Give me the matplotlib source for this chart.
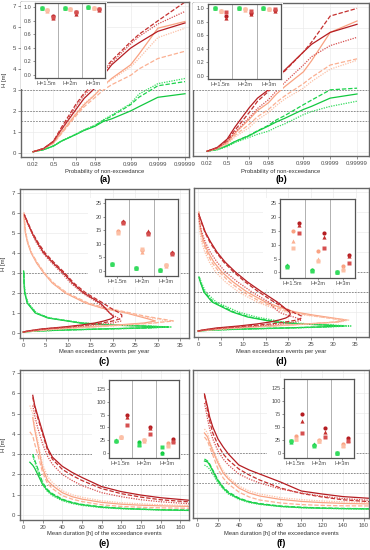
import numpy as np
import matplotlib
matplotlib.use('Agg')
import matplotlib.pyplot as plt
from matplotlib.patches import Rectangle

plt.rcParams['font.family'] = ['Liberation Sans', 'DejaVu Sans']

nan = np.nan
LEVELS = [1.5, 2, 3]
GROUPS = ['H=1.5m', 'H=2m', 'H=3m']

# ---- (a)/(b): H vs probability of non-exceedance ----
P = [0.02, 0.2, 0.5, 0.7, 0.9, 0.95, 0.98, 0.99, 0.995, 0.999, 0.9995, 0.9999, 0.99999]
P_TICKS = [0.02, 0.5, 0.9, 0.98, 0.999, 0.9999, 0.99999]

A_GREEN_SOLID = [0.05, 0.15, 0.32, 0.55, 0.87, 1.07, 1.27, 1.5, 1.62, 2.0, 2.2, 2.65, 2.82]
A_GREEN_DASH = [0.05, 0.15, 0.33, 0.56, 0.88, 1.08, 1.3, 1.55, 1.75, 2.3, 2.65, 3.2, 3.4]
A_GREEN_DOT = [0.05, 0.15, 0.33, 0.56, 0.89, 1.1, 1.32, 1.58, 1.8, 2.35, 2.8, 3.3, 3.55]
A_SALMON_SOLID = [0.05, 0.2, 0.48, 0.95, 1.83, 2.3, 2.78, 3.2, 3.55, 4.2, 4.7, 5.95, 6.27]
A_SALMON_DASH = [0.05, 0.2, 0.45, 0.9, 1.75, 2.2, 2.65, 3.0, 3.25, 3.7, 4.0, 4.5, 4.85]
A_SALMON_DOT = [0.05, 0.2, 0.5, 1.0, 1.9, 2.35, 2.8, 3.2, 3.5, 4.1, 4.5, 5.5, 5.95]
A_RED_SOLID = [0.05, 0.2, 0.55, 1.1, 2.05, 2.6, 3.1, 3.7, 4.2, 5.0, 5.25, 5.8, 6.2]
A_RED_DASH = [0.05, 0.2, 0.55, 1.2, 2.3, 2.85, 3.35, 3.95, 4.4, 5.3, 5.65, 6.3, 7.2]
A_RED_DOT = [0.05, 0.2, 0.5, 1.1, 2.2, 2.75, 3.25, 3.85, 4.3, 5.2, 5.55, 6.15, 6.75]

B_GREEN_SOLID = [0.03, 0.12, 0.3, 0.5, 0.78, 1.0, 1.25, 1.45, 1.62, 2.05, 2.2, 2.6, 2.8]
B_GREEN_DASH = [0.03, 0.12, 0.3, 0.5, 0.8, 1.02, 1.28, 1.55, 1.75, 2.28, 2.5, 3.0, 3.08]
B_GREEN_DOT = [0.03, 0.1, 0.25, 0.45, 0.7, 0.85, 1.0, 1.2, 1.35, 1.8, 1.95, 2.2, 2.45]
B_SALMON_SOLID = [0.03, 0.18, 0.46, 0.9, 1.57, 2.0, 2.37, 2.8, 3.15, 3.87, 4.4, 5.78, 6.33]
B_SALMON_DASH = [0.03, 0.16, 0.4, 0.8, 1.33, 1.7, 2.05, 2.4, 2.7, 3.3, 3.6, 4.2, 4.5]
B_SALMON_DOT = [0.03, 0.15, 0.38, 0.72, 1.17, 1.55, 1.9, 2.25, 2.55, 3.08, 3.4, 4.0, 4.43]
B_RED_SOLID = [0.03, 0.22, 0.62, 1.2, 2.13, 2.6, 3.0, 3.5, 3.95, 4.83, 5.2, 5.78, 6.17]
B_RED_DASH = [0.03, 0.2, 0.55, 1.05, 1.9, 2.45, 2.92, 3.45, 3.9, 4.83, 5.3, 6.57, 6.94]
B_RED_DOT = [0.03, 0.18, 0.5, 0.95, 1.65, 2.1, 2.52, 2.95, 3.35, 4.2, 4.6, 5.14, 5.54]

# ---- (c)/(d): mean exceedance events per year, listed along H ----
C_H_GREEN = [0.05, 0.1, 0.15, 0.2, 0.25, 0.3, 0.35, 0.4, 0.5, 0.75, 1.0, 1.5, 2.0, 2.5, 3.0, 3.1]
C_GREEN_SOLID = [0, 3, 9, 17, 26, 32, 26, 19, 12.7, 5.5, 2.7, 0.9, 0.35, 0.2, 0.15, 0.1]
C_GREEN_DASH = [0, 3, 9, 18, 27, 32.5, 27, 20, 13, 5.8, 2.9, 1.0, 0.4, 0.2, 0.15, 0.1]
C_GREEN_DOT = [0, 3.5, 10, 19, 28, 33, 28, 21, 13.5, 6, 3.0, 1.1, 0.45, 0.25, 0.15, 0.1]
C_H_SALMON = [0.05, 0.1, 0.2, 0.3, 0.4, 0.5, 0.6, 0.7, 0.85, 1.0, 1.25, 1.5, 2.0, 2.5, 3.0,
              3.5, 4.0, 4.5, 5.0, 5.5, 6.0]
C_SALMON_SOLID = [0, 2, 7, 14, 21, 27, 29.5, 28, 25.5, 23, 17.5, 13.9, 9.4, 6.5, 4.6,
                  3.0, 1.8, 1.0, 0.5, 0.3, 0.2]
C_SALMON_DASH = [0, 2, 7.5, 15, 22.5, 29, 33.5, 31, 27, 24, 18.5, 14.5, 9.8, 6.8, 4.8,
                 3.2, 1.9, 1.1, 0.6, 0.35, 0.2]
C_SALMON_DOT = [0, 2.5, 8, 16, 23.5, 29.5, 32, 30, 26, 23.5, 18, 14.2, 9.6, 6.6, 4.7,
                3.1, 1.85, 1.05, 0.55, 0.3, 0.2]
C_H_RED = [0.05, 0.1, 0.2, 0.3, 0.4, 0.5, 0.6, 0.7, 0.8, 0.9, 1.0, 1.25, 1.5, 2.0, 2.5, 3.0,
           3.5, 4.0, 4.5, 5.0, 5.5, 5.9]
C_RED_SOLID = [0, 1, 4, 9, 13, 16, 18, 19.5, 20.2, 19.8, 19.3, 18.3, 17.2, 13.5, 11, 9.0,
               6.7, 4.6, 3.2, 2.0, 1.0, 0.3]
C_RED_DASH = [0, 1.2, 4.5, 10, 14.5, 17.5, 20, 21.5, 22, 22, 21.5, 19.5, 17.8, 14, 11.3, 9.3,
              7.0, 4.9, 3.4, 2.1, 1.1, 0.3]
C_RED_DOT = [0, 1.3, 5, 11, 16, 20, 21.8, 21.5, 20.8, 20, 19.3, 18, 16.8, 13.2, 10.6, 8.6,
             6.4, 4.4, 3.0, 1.9, 0.9, 0.3]

D_H_GREEN = [0.05, 0.1, 0.15, 0.2, 0.25, 0.3, 0.35, 0.4, 0.5, 0.75, 1.0, 1.5, 2.0, 2.5, 2.75]
D_GREEN_SOLID = [0, 3, 10, 19, 27, 32, 28, 23, 17, 11, 7.6, 3.1, 1.3, 0.5, 0.2]
D_GREEN_DASH = [0, 3, 10, 19, 27, 32.5, 28.5, 23.5, 17.5, 11.5, 8.0, 3.4, 1.4, 0.55, 0.2]
D_GREEN_DOT = [0, 4, 12, 21, 29, 34, 30, 25, 19, 13, 9.0, 4.0, 1.7, 0.7, 0.3]
D_SALMON_SOLID = [0, 2, 8, 16, 24, 31, 33, 30, 25.5, 21.6, 18, 15, 10.9, 7.8, 5.3,
                  3.5, 2.2, 1.3, 0.7, 0.35, 0.2]
D_SALMON_DASH = [0, 2, 8, 16, 24, 30.5, 32, 29, 24.5, 20.5, 17, 14, 10, 7, 4.7,
                 3.0, 1.9, 1.1, 0.6, 0.3, 0.2]
D_SALMON_DOT = [0, 2.5, 9, 17, 25, 31.5, 33.5, 29, 23.5, 19.5, 16, 13.1, 9, 6.1, 3.9,
                2.5, 1.5, 0.8, 0.4, 0.25, nan]
D_RED_SOLID = [0, 1, 4, 9, 13, 16, 18, 19.5, 20.3, 20.5, 20.3, 19, 17.6, 14.2, 11.0, 8.3,
               6.0, 4.2, 2.8, 1.6, 0.8, 0.15]
D_RED_DASH = [0, 1.2, 5, 11, 16, 19.5, 22, 23, 23, 22, 21, 18.8, 16.9, 13.5, 10.5, 7.9,
              5.7, 4.0, 2.6, 1.5, 0.7, 0.15]
D_RED_DOT = [0, 1.5, 6, 13, 18.5, 21.5, 23, 22, 20.5, 19, 18, 16.7, 15.7, 12, 8.8, 6.1,
             4.2, 2.7, 1.6, 0.8, 0.3, 0.1]

# ---- (e)/(f): mean duration [h] of exceedance events ----
DUR = [7, 10, 12, 15, 20, 25, 30, 40, 50, 60, 80, 100, 120, 140, 170]
E_GREEN_SOLID = [2.6, 2.45, 2.3, 2.0, 1.5, 1.2, 1.0, 0.75, 0.6, 0.5, 0.38, 0.32, 0.28, 0.25, 0.22]
E_GREEN_DASH = [nan, 3.0, 2.7, 2.3, 1.6, 1.25, 1.05, 0.78, 0.62, 0.52, 0.4, 0.33, 0.29, 0.26, 0.24]
E_GREEN_DOT = [nan, 2.9, 2.6, 2.2, 1.5, 1.15, 0.95, 0.7, 0.56, 0.47, 0.36, 0.3, 0.27, 0.24, 0.22]
E_SALMON_SOLID = [nan, 4.8, 4.2, 3.5, 2.3, 1.7, 1.45, 1.1, 0.9, 0.78, 0.62, 0.53, 0.48, 0.45, 0.42]
E_SALMON_DASH = [4.1, 3.9, 3.5, 3.0, 2.1, 1.55, 1.3, 0.95, 0.78, 0.66, 0.5, 0.42, 0.38, 0.35, 0.33]
E_SALMON_DOT = [5.4, 5.0, 4.4, 3.7, 2.5, 1.9, 1.6, 1.2, 1.0, 0.87, 0.7, 0.6, 0.55, 0.5, 0.47]
E_RED_SOLID = [nan, 5.9, 5.4, 4.9, 4.1, 3.3, 2.85, 2.4, 2.1, 1.85, 1.4, 1.15, 0.98, 0.85, 0.72]
E_RED_DASH = [nan, 5.8, 5.3, 4.8, 4.0, 3.2, 2.75, 2.25, 1.95, 1.7, 1.3, 1.05, 0.88, 0.75, 0.64]
E_RED_DOT = [nan, 5.4, 4.9, 4.3, 3.5, 2.9, 2.5, 2.0, 1.7, 1.45, 1.1, 0.9, 0.75, 0.65, 0.55]

F_GREEN_SOLID = [2.6, 2.55, 2.4, 2.1, 1.6, 1.25, 1.0, 0.72, 0.55, 0.45, 0.33, 0.27, 0.24, 0.22, 0.2]
F_GREEN_DASH = [2.7, 2.6, 2.45, 2.15, 1.65, 1.3, 1.05, 0.75, 0.57, 0.47, 0.35, 0.29, 0.25, 0.23, 0.21]
F_GREEN_DOT = [2.4, 2.3, 2.2, 1.95, 1.5, 1.2, 0.95, 0.68, 0.52, 0.43, 0.32, 0.26, 0.23, 0.21, 0.19]
F_SALMON_SOLID = [4.0, 3.8, 3.5, 3.1, 2.5, 2.0, 1.7, 1.25, 1.0, 0.85, 0.68, 0.58, 0.52, 0.48, 0.45]
F_SALMON_DASH = [3.8, 3.6, 3.3, 2.9, 2.2, 1.75, 1.45, 1.05, 0.8, 0.65, 0.5, 0.42, 0.38, 0.36, 0.35]
F_SALMON_DOT = [4.2, 4.0, 3.6, 3.2, 2.6, 2.1, 1.8, 1.35, 1.1, 0.95, 0.77, 0.67, 0.6, 0.56, 0.53]
F_RED_SOLID = [5.95, 5.3, 4.8, 4.3, 3.7, 3.3, 2.95, 2.4, 2.15, 1.95, 1.55, 1.1, 0.95, 0.82, 0.72]
F_RED_DASH = [5.9, 5.1, 4.6, 4.0, 3.4, 2.95, 2.65, 2.2, 1.9, 1.65, 1.25, 0.98, 0.8, 0.66, 0.55]
F_RED_DOT = [5.5, 4.7, 4.2, 3.7, 3.1, 2.7, 2.4, 1.95, 1.7, 1.5, 1.2, 1.0, 0.84, 0.72, 0.62]

# ---- inset values: per group (H=1.5m, 2m, 3m), per method (circle, triangle, square) ----
IA_GREEN = [(0.98, 0.98, 0.98), (0.99, 0.99, 0.99), (0.995, 0.995, 0.995)]
IA_SALMON = [(0.95, 0.94, 0.95), (0.97, 0.97, 0.97), (0.99, 0.99, 0.99)]
IA_RED = [(0.87, 0.84, 0.86), (0.93, 0.90, 0.92), (0.97, 0.96, 0.97)]
IB_GREEN = [(1.0, 1.0, 0.995), (1.0, 1.0, 0.995), (1.0, 1.0, 1.0)]
IB_SALMON = [(0.96, 0.95, 0.96), (0.98, 0.97, 0.98), (0.99, 0.99, 0.99)]
IB_RED = [(0.88, 0.85, 0.94), (0.93, 0.91, 0.96), (0.97, 0.96, 0.98)]
IC_GREEN = [(2.5, 2.5, 2.5), (0.8, 0.8, 0.8), (0.2, 0.2, 0.2)]
IC_SALMON = [(14.5, 14.5, 14.0), (7.5, 7.0, 8.0), (2.0, 1.8, 2.2)]
IC_RED = [(18.0, 18.5, 17.5), (14.0, 14.5, 13.5), (6.5, 7.0, 6.2)]
ID_GREEN = [(2.5, 2.8, 2.0), (0.8, 0.8, 0.6), (0.2, 0.2, 0.1)]
ID_SALMON = [(14.9, 11.5, 8.8), (7.8, 4.8, 4.2), (2.2, 1.5, 1.0)]
ID_RED = [(17.7, 17, 14.1), (14.1, 12.8, 8.8), (6.4, 6, 3.3)]
IE_GREEN = [(24, 25, 24), (22, 18, 15), (0, 0, 11)]
IE_SALMON = [(32, 32, 32), (25, 24, 26), (20, 17, 13)]
IE_RED = [(74, 70, 55), (50, 48, 37), (28, 26, 22)]
IF_GREEN = [(23, 21, 22), (15, 18, 13), (0, 0, 0)]
IF_SALMON = [(33, 27, 26), (25, 23, 22), (17, 15, 14)]
IF_RED = [(75, 62, 38), (49, 41, 30), (28, 25, 22)]

# colours per scenario, one shade per method (solid/circle, dashed/triangle, dotted/square)
GREENS = ['#12c83f', '#1ad24a', '#34dc5e']
SALMONS = ['#f9a282', '#fbb092', '#fcc0a6']
REDS = ['#b51d22', '#c4302f', '#d65050']
STYLES = ['-', (0, (3.5, 1.5)), (0, (1, 1))]
MARKERS = ['o', '^', 's']
DODGE = [-0.22, 0.02, 0.26]

W, H = 370, 550
fig = plt.figure(figsize=(W / 100, H / 100), dpi=100)


def px_axes(l, t, r, b, **kw):
    return fig.add_axes([l / W, 1 - b / H, (r - l) / W, (b - t) / H], **kw)


def gumbel(p):
    p = np.clip(p, 1e-15, 1 - 1e-15)
    return -np.log(-np.log(p))


def gumbel_inv(g):
    return np.exp(-np.exp(-g))


def style_main(ax, left_labels):
    for s in ax.spines.values():
        s.set_color('#666666')
        s.set_linewidth(1.0)
    ax.grid(True, color='#ebebeb', lw=0.5)
    ax.set_axisbelow(True)
    ax.tick_params(labelsize=4.3, length=2, width=0.5, color='#666666', pad=1.5,
                   labelcolor='#4d4d4d')
    ax.set_yticks(range(8))
    if left_labels:
        ax.set_ylabel('H [m]', fontsize=4.3, color='#333333')
        ax.yaxis.set_label_coords(-0.085, 0.5)
    else:
        ax.tick_params(axis='y', left=False, labelleft=False)
    for h in LEVELS:
        ax.axhline(h, color='#7f7f7f', lw=0.6, ls=(0, (2, 1.5)), zorder=1)


def draw_lines(ax, series, swap=False):
    # series: list of (x, [solid, dash, dot], colours)
    for x, ys, cols in series:
        for y, ls, c in zip(ys, STYLES, cols):
            if swap:
                ax.plot(y, x, ls=ls, color=c, lw=0.9, zorder=2)
            else:
                ax.plot(x, y, ls=ls, color=c, lw=0.9, zorder=2)


def inset(main, box, vals, ylim, yticks, yfmt):
    l, t, r, b = box
    # white box hiding the main plot behind the inset and its labels
    main.add_patch(Rectangle(((l - 17) / W, 1 - (b + 11) / H), (r - l + 19) / W, (b - t + 12) / H,
                             transform=fig.transFigure, facecolor='white', edgecolor='none',
                             zorder=5))
    ia = px_axes(l, t, r, b, zorder=3)
    x = np.arange(1, 4)
    for vs, cols, off in zip(vals, [GREENS, SALMONS, REDS], DODGE):
        arr = np.array(vs)
        for m in range(3):
            ia.plot(x + off, arr[:, m], ls='none', marker=MARKERS[m], ms=3.0,
                    color=cols[m], mec='none')
    for s in ia.spines.values():
        s.set_color('#555555')
        s.set_linewidth(0.9)
    for xv in [1.5, 2.5]:
        ia.axvline(xv, color='#b0b0b0', lw=0.7, zorder=0)
    ia.set_xlim(0.5, 3.5)
    ia.set_xticks(x)
    ia.set_xticklabels(GROUPS)
    ia.set_ylim(*ylim)
    ia.set_yticks(yticks)
    ia.set_yticklabels([yfmt.format(v) for v in yticks])
    ia.tick_params(labelsize=4.0, length=1.5, width=0.5, color='#666666', pad=1,
                   labelcolor='#4d4d4d')


def panel_text(ax, xlabel, tag, ylab, ytag):
    pos = ax.get_position()
    cx = (pos.x0 + pos.x1) / 2
    fig.text(cx, 1 - ylab / H, xlabel, ha='center', va='center', fontsize=4.2, color='#333333')
    fig.text(cx, 1 - ytag / H, tag, ha='center', va='center', fontsize=6.5, weight='bold')


# ---------------- (a) and (b) ----------------
for box, data, ins, tag, left, gl, gr in [
        ((21, 2, 189, 157), [A_GREEN_SOLID, A_GREEN_DASH, A_GREEN_DOT, A_SALMON_SOLID, A_SALMON_DASH,
                             A_SALMON_DOT, A_RED_SOLID, A_RED_DASH, A_RED_DOT],
         ((35, 3, 105, 78), [IA_GREEN, IA_SALMON, IA_RED]), '(a)', True, -2.38, 11.85),
        ((193, 3, 369, 156), [B_GREEN_SOLID, B_GREEN_DASH, B_GREEN_DOT, B_SALMON_SOLID, B_SALMON_DASH,
                              B_SALMON_DOT, B_RED_SOLID, B_RED_DASH, B_RED_DOT],
         ((208, 4, 281, 79), [IB_GREEN, IB_SALMON, IB_RED]), '(b)', False, -2.57, 12.54)]:
    ax = px_axes(*box)
    ax.set_xscale('function', functions=(gumbel, gumbel_inv))
    style_main(ax, left)
    draw_lines(ax, [(P, data[0:3], GREENS), (P, data[3:6], SALMONS), (P, data[6:9], REDS)])
    ax.set_xlim(gumbel_inv(gl), gumbel_inv(gr))
    ax.set_ylim(-0.2, 7.2)
    ax.set_xticks(P_TICKS)
    ax.set_xticklabels([str(p) for p in P_TICKS])
    ax.minorticks_off()
    inset(ax, ins[0], ins[1], (-0.05, 1.06), [0, 0.2, 0.4, 0.6, 0.8, 1.0], '{:.1f}')
    panel_text(ax, 'Probability of non-exceedance', tag, 171, 180)

# ---------------- (c) and (d) ----------------
for box, series, ins, tag, left, xl in [
        ((20, 189, 189, 338),
         [(C_H_GREEN, [C_GREEN_SOLID, C_GREEN_DASH, C_GREEN_DOT], GREENS),
          (C_H_SALMON, [C_SALMON_SOLID, C_SALMON_DASH, C_SALMON_DOT], SALMONS),
          (C_H_RED, [C_RED_SOLID, C_RED_DASH, C_RED_DOT], REDS)],
         ((105, 199, 178, 276), [IC_GREEN, IC_SALMON, IC_RED]), '(c)', True, (-0.7, 37)),
        ((194, 188, 369, 337),
         [(D_H_GREEN, [D_GREEN_SOLID, D_GREEN_DASH, D_GREEN_DOT], GREENS),
          (C_H_SALMON, [D_SALMON_SOLID, D_SALMON_DASH, D_SALMON_DOT], SALMONS),
          (C_H_RED, [D_RED_SOLID, D_RED_DASH, D_RED_DOT], REDS)],
         ((280, 199, 355, 278), [ID_GREEN, ID_SALMON, ID_RED]), '(d)', False, (-0.9, 38))]:
    ax = px_axes(*box)
    style_main(ax, left)
    draw_lines(ax, series, swap=True)
    ax.set_xlim(*xl)
    ax.set_ylim(-0.25, 7.2)
    ax.set_xticks(range(0, 36, 5))
    inset(ax, ins[0], ins[1], (-2, 26.5), [0, 5, 10, 15, 20, 25], '{:d}')
    panel_text(ax, 'Mean exceedance events per year', tag, 352, 361)

# ---------------- (e) and (f) ----------------
for box, data, ins, tag, left, xl in [
        ((20, 370, 189, 520), [E_GREEN_SOLID, E_GREEN_DASH, E_GREEN_DOT, E_SALMON_SOLID, E_SALMON_DASH,
                               E_SALMON_DOT, E_RED_SOLID, E_RED_DASH, E_RED_DOT],
         ((109, 380, 179, 458), [IE_GREEN, IE_SALMON, IE_RED]), '(e)', True, (-3, 169)),
        ((193, 370, 369, 518), [F_GREEN_SOLID, F_GREEN_DASH, F_GREEN_DOT, F_SALMON_SOLID, F_SALMON_DASH,
                                F_SALMON_DOT, F_RED_SOLID, F_RED_DASH, F_RED_DOT],
         ((284, 379, 354, 458), [IF_GREEN, IF_SALMON, IF_RED]), '(f)', False, (-4, 165))]:
    ax = px_axes(*box)
    style_main(ax, left)
    draw_lines(ax, [(DUR, data[0:3], GREENS), (DUR, data[3:6], SALMONS), (DUR, data[6:9], REDS)])
    ax.set_xlim(*xl)
    ax.set_ylim(-0.25, 7.15)
    ax.set_xticks(range(0, 161, 20))
    inset(ax, ins[0], ins[1], (-10, 143), [0, 25, 50, 75, 100, 125], '{:d}')
    panel_text(ax, 'Mean duration [h] of the exceedance events', tag, 533, 543)

fig.savefig('out.png', dpi=100, facecolor='white')
